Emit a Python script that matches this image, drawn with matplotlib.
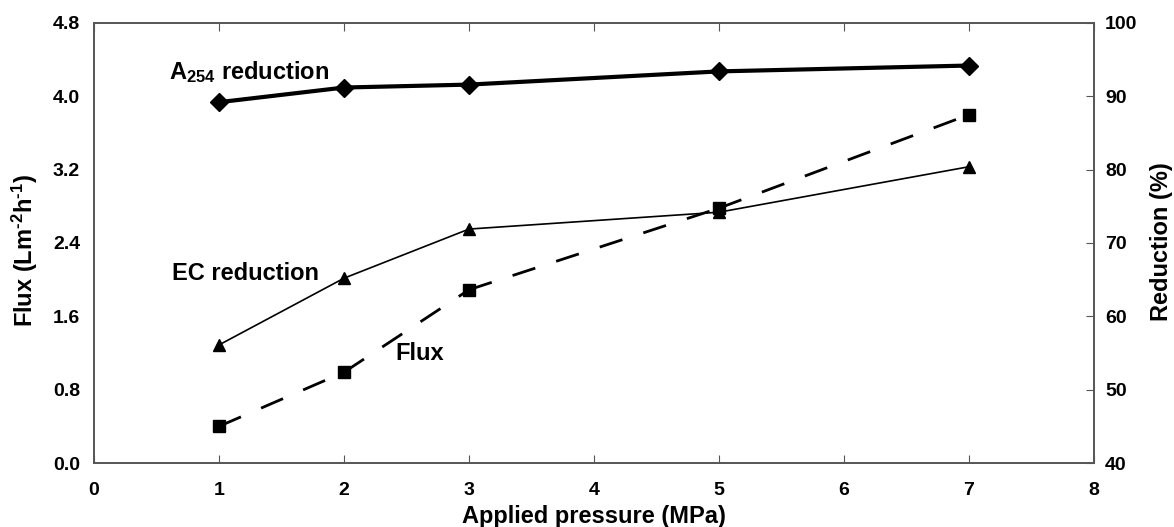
import matplotlib
matplotlib.use("Agg")
import matplotlib.pyplot as plt

pressure = [1, 2, 3, 5, 7]
flux = [0.40, 0.99, 1.89, 2.78, 3.80]
a254_reduction = [89.2, 91.2, 91.6, 93.4, 94.2]
ec_reduction = [56.1, 65.2, 71.9, 74.2, 80.4]

x_ticks = [0, 1, 2, 3, 4, 5, 6, 7, 8]
flux_ticks = [0.0, 0.8, 1.6, 2.4, 3.2, 4.0, 4.8]
red_ticks = [40, 50, 60, 70, 80, 90, 100]

plt.rcParams['font.family'] = ['Liberation Sans', 'DejaVu Sans']
plt.rcParams['font.weight'] = 'bold'
plt.rcParams['mathtext.fontset'] = 'custom'
plt.rcParams['mathtext.rm'] = 'Liberation Sans:bold'
plt.rcParams['mathtext.bf'] = 'Liberation Sans:bold'
plt.rcParams['mathtext.it'] = 'Liberation Sans:bold'
plt.rcParams['mathtext.default'] = 'rm'

W, H = 1174, 527
fig = plt.figure(figsize=(W / 100, H / 100), dpi=100)
ax = fig.add_axes([94 / W, 1 - 463 / H, 1000 / W, 440 / H])
ax2 = ax.twinx()

spine_col = '#555555'
for a in (ax, ax2):
    for s in a.spines.values():
        s.set_color(spine_col)
        s.set_linewidth(1.2)

# Flux: dashed segments restarting at each point (as in the reference)
for i in range(len(pressure) - 1):
    ax.plot(pressure[i:i + 2], flux[i:i + 2], color='black', lw=2.0,
            ls=(0, (8.6, 7.9)), zorder=2)
ax.plot(pressure, flux, ls='none', color='black', marker='s', ms=8.5, zorder=3)

ax2.plot(pressure, a254_reduction, color='black', lw=3.0,
         marker='D', ms=9, zorder=3)
ax2.plot(pressure, ec_reduction, color='black', lw=1.2,
         marker='^', ms=8, zorder=3)

ax.set_xlim(0, 8)
ax.set_ylim(0, 4.8)
ax2.set_ylim(40, 100)
ax.set_xticks(x_ticks)
ax.set_yticks(flux_ticks)
ax.set_yticklabels([f"{v:.1f}" for v in flux_ticks])
ax2.set_yticks(red_ticks)

ax.tick_params(axis='x', direction='in', top=True, length=6, color=spine_col,
               labelsize=14, pad=14)
ax.tick_params(axis='y', direction='in', length=0, labelsize=14, pad=10)
ax2.tick_params(axis='y', direction='in', length=6, color=spine_col,
                labelsize=14, pad=8)

ax.set_xlabel("Applied pressure (MPa)", fontsize=17, fontweight='bold')
ax.xaxis.set_label_coords(0.5, (463 - 505) / 440, transform=ax.transAxes)
ax.set_ylabel("Flux (Lm$^{\\text{-2}}$h$^{\\text{-1}}$)", fontsize=17,
              fontweight='bold')
ax.yaxis.set_label_coords((40 - 94) / 1000, (463 - 251) / 440, transform=ax.transAxes)
ax2.set_ylabel("Reduction (%)", fontsize=17, fontweight='bold')
ax2.yaxis.set_label_coords((1150 - 94) / 1000, (463 - 242) / 440, transform=ax.transAxes)

ax.text(0.6, 4.27, "A$_{\\text{254}}$ reduction", fontsize=17, fontweight='bold',
        ha='left', va='center')
ax.text(0.62, 2.07, "EC reduction", fontsize=17, fontweight='bold',
        ha='left', va='center')
ax.text(2.41, 1.2, "Flux", fontsize=17, fontweight='bold',
        ha='left', va='center')

fig.savefig("out.png", dpi=100)
